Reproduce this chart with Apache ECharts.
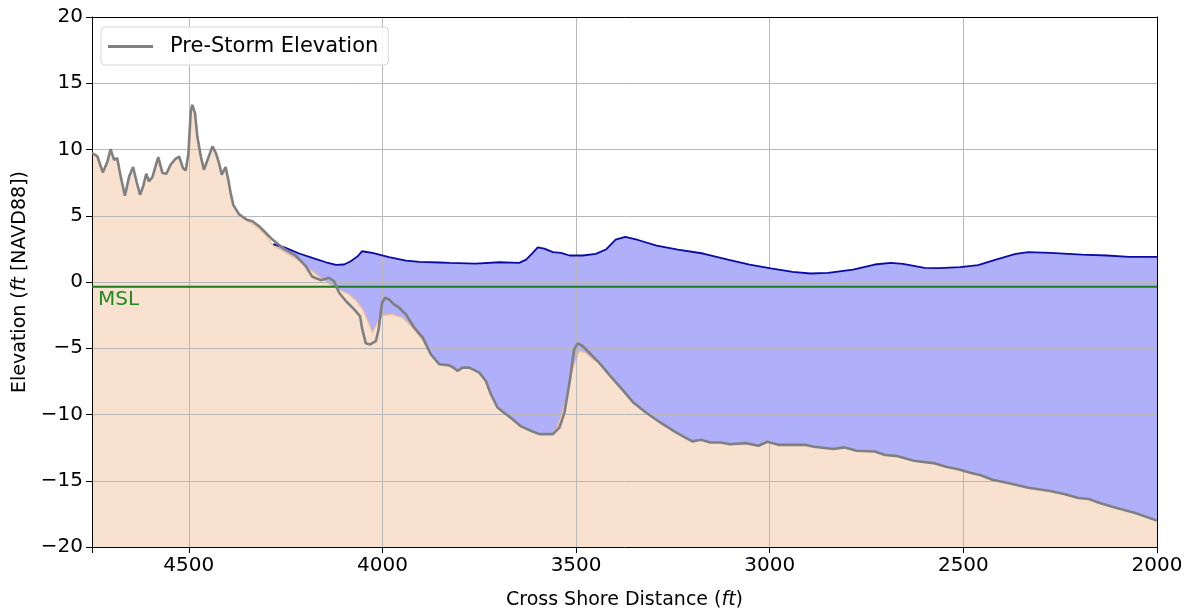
<!DOCTYPE html>
<html><head><meta charset="utf-8">
<script src="https://cdn.jsdelivr.net/npm/echarts@6/dist/echarts.min.js"></script>
<style>html,body{margin:0;padding:0;background:#fff}#c{width:1191px;height:615px}</style>
</head><body><div id="c"></div><script>
// Pre-storm elevation (gray line)
const preX = [4750,4742,4736,4722,4710,4702,4693,4685,4676,4665,4654,4644,4634,4626,4618,4610,4603,4594,4579,4568,4558,4547,4535,4525,4520,4515,4508,4501,4495,4491,4484,4478,4469,4461,4450,4439,4430,4422,4415,4405,4398,4392,4385,4370,4350,4336,4318,4301,4284,4258,4224,4198,4181,4159,4138,4125,4112,4094,4073,4058,4052,4043,4032,4017,4010,4001,3993,3983,3970,3957,3939,3918,3896,3875,3853,3827,3817,3806,3793,3776,3750,3733,3720,3703,3681,3664,3642,3617,3595,3560,3543,3530,3517,3505,3496,3483,3440,3412,3385,3352,3320,3283,3241,3200,3177,3154,3126,3103,3062,3029,3006,2978,2909,2886,2835,2808,2776,2729,2702,2674,2628,2573,2545,2508,2480,2457,2425,2379,2332,2276,2240,2203,2176,2148,2111,2056,2000];
const preY = [9.73,9.6,9.47,8.27,9.1,10.03,9.22,9.35,7.97,6.51,7.97,8.67,7.47,6.59,7.21,8.17,7.59,7.92,9.43,8.22,8.17,8.85,9.28,9.47,9.53,8.6,8.42,9.73,12.86,13.37,12.74,10.98,9.47,8.47,9.35,10.23,9.73,8.98,8.1,8.67,7.72,6.72,5.8,5.1,4.7,4.58,4.2,3.7,3.2,2.58,2.0,1.19,0.39,0.14,0.32,0.06,-0.81,-1.45,-2.07,-2.57,-3.58,-4.63,-4.71,-4.46,-3.58,-1.57,-1.19,-1.32,-1.69,-1.94,-2.45,-3.45,-4.2,-5.46,-6.21,-6.29,-6.46,-6.71,-6.46,-6.46,-6.84,-7.47,-8.47,-9.47,-9.98,-10.35,-10.9,-11.23,-11.48,-11.48,-10.98,-9.85,-7.59,-5.08,-4.63,-4.83,-6.1,-7.09,-7.97,-9.1,-9.85,-10.6,-11.36,-12.03,-11.91,-12.11,-12.11,-12.24,-12.16,-12.36,-12.06,-12.29,-12.29,-12.44,-12.61,-12.48,-12.74,-12.79,-13.06,-13.12,-13.49,-13.69,-13.94,-14.17,-14.42,-14.57,-14.92,-15.2,-15.53,-15.78,-16.0,-16.3,-16.38,-16.68,-17.0,-17.43,-18.01];

// Post-storm bed (orange fill)
const bedX = [4750,4742,4736,4722,4710,4702,4693,4685,4676,4665,4654,4644,4634,4626,4618,4610,4603,4594,4579,4568,4558,4547,4535,4525,4520,4515,4508,4501,4495,4491,4484,4478,4469,4461,4450,4439,4430,4422,4415,4405,4398,4392,4385,4370,4340,4318,4300,4284,4250,4220,4198,4165,4130,4110,4086,4068,4051,4034,4026,4013,4000,3974,3948,3922,3896,3883,3875,3853,3827,3817,3806,3793,3776,3750,3733,3720,3703,3681,3664,3642,3617,3595,3560,3547,3526,3509,3492,3475,3458,3440,3412,3385,3352,3320,3283,3241,3200,3177,3154,3126,3103,3062,3029,3006,2978,2909,2886,2835,2808,2776,2729,2702,2674,2628,2573,2545,2508,2480,2457,2425,2379,2332,2276,2240,2203,2176,2148,2111,2056,2000];
const bedY = [9.73,9.6,9.47,8.27,9.1,10.03,9.22,9.35,7.97,6.51,7.97,8.67,7.47,6.59,7.21,8.17,7.59,7.92,9.43,8.22,8.17,8.85,9.28,9.47,9.53,8.6,8.42,9.73,12.86,13.37,12.74,10.98,9.47,8.47,9.35,10.23,9.73,8.98,8.1,8.67,7.72,6.72,5.8,5.1,4.45,4.0,3.5,2.8,2.2,1.7,1.2,0.45,-0.3,-0.6,-0.94,-1.4,-2.07,-3.2,-3.83,-3.07,-2.52,-2.45,-2.7,-3.45,-4.4,-5.1,-5.46,-6.21,-6.29,-6.46,-6.71,-6.46,-6.46,-6.84,-7.47,-8.47,-9.47,-9.98,-10.35,-10.9,-11.23,-11.48,-11.48,-10.86,-8.85,-6.59,-5.2,-5.35,-5.8,-6.1,-7.09,-7.97,-9.1,-9.85,-10.6,-11.36,-12.03,-11.91,-12.11,-12.11,-12.24,-12.16,-12.36,-12.06,-12.29,-12.29,-12.44,-12.61,-12.48,-12.74,-12.79,-13.06,-13.12,-13.49,-13.69,-13.94,-14.17,-14.42,-14.57,-14.92,-15.2,-15.53,-15.78,-16.0,-16.3,-16.38,-16.68,-17.0,-17.43,-18.01];

// Water surface (blue line / fill)
const wlX = [4282,4250,4215,4181,4146,4120,4099,4082,4064,4053,4026,3983,3939,3905,3853,3827,3759,3698,3647,3629,3612,3599,3582,3560,3539,3517,3483,3449,3423,3398,3373,3340,3292,3237,3172,3108,3052,2997,2941,2895,2849,2785,2729,2688,2656,2600,2563,2508,2462,2416,2365,2332,2276,2194,2129,2073,2000];
const wlY = [2.85,2.58,2.15,1.82,1.49,1.29,1.32,1.57,1.94,2.32,2.2,1.87,1.62,1.52,1.47,1.44,1.39,1.49,1.44,1.69,2.2,2.62,2.52,2.25,2.2,2.0,2.0,2.12,2.45,3.2,3.4,3.17,2.75,2.45,2.15,1.69,1.32,1.02,0.77,0.64,0.69,0.94,1.32,1.44,1.37,1.07,1.04,1.12,1.27,1.69,2.12,2.25,2.2,2.07,2.0,1.9,1.9];

const mslLevel = -0.35;
const xTicks = [2000,2500,3000,3500,4000,4500];
const yTicks = [-20,-15,-10,-5,0,5,10,15,20];

const pair = (xs, ys) => xs.map((x, i) => [x, ys[i]]);
const FONT = 'DejaVu Sans';
const minus = v => String(v).replace('-', '\u2212');

const chart = echarts.init(document.getElementById('c'), null, {renderer: 'canvas'});
chart.setOption({
  animation: false,
  backgroundColor: '#fff',
  textStyle: {fontFamily: FONT},
  grid: {left: 92, right: 34, top: 17, bottom: 67},
  legend: {
    left: 101, top: 27, padding: [9, 10, 8, 7],
    itemWidth: 45, itemHeight: 3,
    borderColor: '#d6d6d6', borderWidth: 1, borderRadius: 4,
    backgroundColor: 'rgba(255,255,255,0.85)',
    textStyle: {fontFamily: FONT, fontSize: 21, color: '#000', padding: [0, 0, 0, 12]},
    data: [{name: 'Pre-Storm Elevation', icon: 'rect', itemStyle: {color: '#808080'}}]
  },
  xAxis: [{
    type: 'value', inverse: true, min: 2000, max: 4750, interval: 500, position: 'bottom', z: 3,
    name: 'Cross Shore Distance ({i|ft})', nameLocation: 'middle', nameGap: 44,
    nameTextStyle: {fontFamily: FONT, fontSize: 19, color: '#000',
      rich: {i: {fontFamily: FONT, fontStyle: 'italic', fontSize: 19, color: '#000'}}},
    axisLine: {show: true, onZero: false, lineStyle: {color: '#000', width: 1}},
    axisTick: {show: true, length: 6, lineStyle: {color: '#000'}},
    axisLabel: {fontFamily: FONT, fontSize: 20, color: '#000', margin: 9,
      formatter: v => xTicks.includes(v) ? String(v) : ''},
    splitLine: {show: true, lineStyle: {color: '#b8b8b8', width: 1}}
  }, {
    type: 'value', inverse: true, min: 2000, max: 4750, position: 'top', z: 3,
    axisLine: {show: true, onZero: false, lineStyle: {color: '#000', width: 1}},
    axisTick: {show: false}, axisLabel: {show: false}, splitLine: {show: false}
  }],
  yAxis: [{
    type: 'value', min: -20, max: 20, interval: 5, position: 'left', z: 3,
    name: 'Elevation ({i|ft} [NAVD88])', nameLocation: 'middle', nameGap: 60,
    nameTextStyle: {fontFamily: FONT, fontSize: 19, color: '#000',
      rich: {i: {fontFamily: FONT, fontStyle: 'italic', fontSize: 19, color: '#000'}}},
    axisLine: {show: true, onZero: false, lineStyle: {color: '#000', width: 1}},
    axisTick: {show: true, length: 6, lineStyle: {color: '#000'}},
    axisLabel: {fontFamily: FONT, fontSize: 20, color: '#000', margin: 9,
      formatter: v => yTicks.includes(v) ? minus(v) : ''},
    splitLine: {show: true, lineStyle: {color: '#b8b8b8', width: 1}}
  }, {
    type: 'value', min: -20, max: 20, position: 'right', z: 3,
    axisLine: {show: true, onZero: false, lineStyle: {color: '#000', width: 1}},
    axisTick: {show: false}, axisLabel: {show: false}, splitLine: {show: false}
  }],
  series: [
    {
      name: 'Water', type: 'line', data: pair(wlX, wlY), symbol: 'none', z: 1,
      lineStyle: {width: 0}, areaStyle: {color: '#afb0f9', opacity: 1, origin: 'start'},
      silent: true
    },
    {
      name: 'Bed', type: 'line', data: pair(bedX, bedY), symbol: 'none', z: 2,
      lineStyle: {width: 1.2, color: '#f3bd92'}, areaStyle: {color: '#f9e1cf', opacity: 1, origin: 'start'},
      silent: true
    },
    {
      name: 'WaterLine', type: 'line', data: pair(wlX, wlY), symbol: 'none', z: 4,
      lineStyle: {width: 1.8, color: '#0a0aa6'}
    },
    {
      name: 'MSL', type: 'line', data: [[4750, mslLevel], [2000, mslLevel]], symbol: 'none', z: 4,
      lineStyle: {width: 2, color: '#1f7a1f'}
    },
    {
      name: 'Pre-Storm Elevation', type: 'line', data: pair(preX, preY), symbol: 'none', z: 5,
      lineStyle: {width: 2.6, color: '#808080'}, itemStyle: {color: '#808080'}
    }
  ]
});
const p = chart.convertToPixel({gridIndex: 0}, [4750, mslLevel]);
chart.setOption({
  graphic: [{
    type: 'text', left: p[0] + 6, top: p[1] + 3, z: 10,
    style: {text: 'MSL', fontFamily: FONT, fontSize: 20, fill: '#1f8a1f'}
  }]
});
</script></body></html>
